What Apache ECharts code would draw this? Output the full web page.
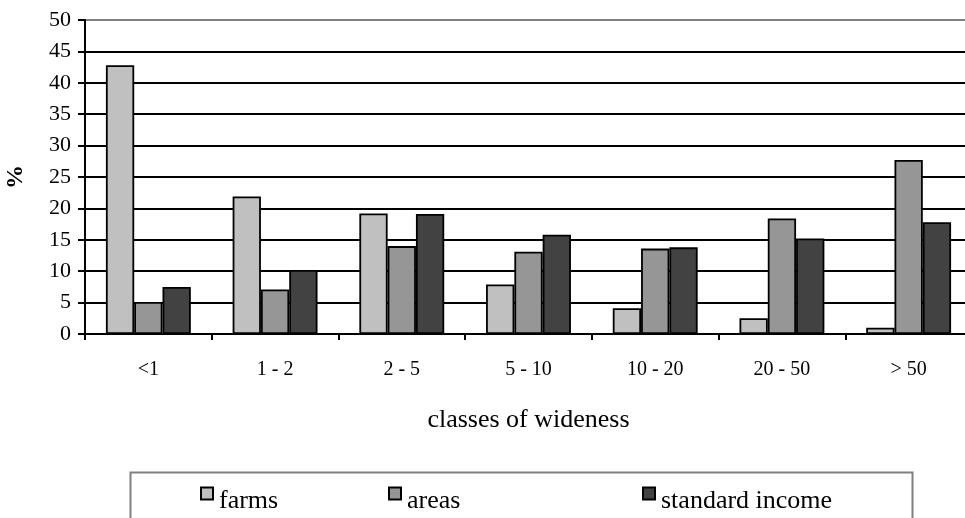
<!DOCTYPE html>
<html>
<head>
<meta charset="utf-8">
<script src="https://cdn.jsdelivr.net/npm/echarts@6/dist/echarts.min.js"></script>
<style>html,body{margin:0;padding:0;background:#fff;}#c{width:965px;height:518px;}</style>
</head>
<body>
<div id="c"></div>
<script>
const categories = ['<1', '1 - 2', '2 - 5', '5 - 10', '10 - 20', '20 - 50', '> 50'];
const farms = [42.8, 21.9, 19.2, 7.9, 4.1, 2.5, 1.0];
const areas = [5.1, 7.1, 14.0, 13.1, 13.6, 18.4, 27.7];
const standardIncome = [7.5, 10.2, 19.1, 15.8, 13.8, 15.2, 17.8];
const yTicks = [0, 5, 10, 15, 20, 25, 30, 35, 40, 45, 50];

const FONT = '"Liberation Serif", "Times New Roman", serif';
const chart = echarts.init(document.getElementById('c'), null, {renderer: 'canvas'});
const splitColors = yTicks.map((v, i) => i === yTicks.length - 1 ? '#808080' : '#000');

function bar(name, data, color) {
  return {
    name, type: 'bar', data,
    barGap: '0%', barCategoryGap: '33%',
    itemStyle: {color, borderColor: '#000', borderWidth: 1.8},
    emphasis: {disabled: true},
    animation: false
  };
}
function leg(name, left) {
  return {
    data: [name], left, top: 473, padding: 0, itemWidth: 12, itemHeight: 12, itemGap: 0,
    icon: 'rect', selectedMode: false,
    itemStyle: {borderColor: '#000', borderWidth: 2},
    formatter: '{t|{name}}',
    textStyle: {
      fontFamily: FONT, fontSize: 26, color: '#000',
      rich: {t: {fontFamily: FONT, fontSize: 26, color: '#000', lineHeight: 30, padding: [15, 0, 0, 1]}}
    }
  };
}

chart.setOption({
  animation: false,
  backgroundColor: '#fff',
  grid: {left: 85, right: -7, top: 20, bottom: 184, containLabel: false, outerBoundsMode: 'none'},
  xAxis: {
    type: 'category', data: categories,
    name: 'classes of wideness', nameLocation: 'middle', nameGap: 73,
    nameTextStyle: {fontFamily: FONT, fontSize: 26, color: '#000'},
    axisLine: {lineStyle: {color: '#000', width: 2}},
    axisTick: {show: true, length: 6, lineStyle: {color: '#000', width: 2}},
    axisLabel: {fontFamily: FONT, fontSize: 20, color: '#000', margin: 26},
    splitLine: {show: false}
  },
  yAxis: {
    type: 'value', min: 0, max: 50, interval: 5,
    name: '%', nameLocation: 'middle', nameGap: 57, nameRotate: 90,
    nameTextStyle: {fontFamily: FONT, fontSize: 24, fontWeight: 'bold', color: '#000'},
    axisLine: {show: true, lineStyle: {color: '#000', width: 2}},
    axisTick: {show: true, length: 7, lineStyle: {color: '#000', width: 2}},
    axisLabel: {fontFamily: FONT, fontSize: 22, color: '#000', margin: 14},
    splitLine: {show: true, lineStyle: {color: splitColors, width: 2}}
  },
  legend: [leg('farms', 200), leg('areas', 388), leg('standard income', 642)],
  graphic: [{
    type: 'rect', left: 128, top: 470,
    shape: {width: 782, height: 60},
    style: {fill: 'none', stroke: '#808080', lineWidth: 2},
    silent: true, z: -1
  }],
  series: [
    bar('farms', farms, '#c0c0c0'),
    bar('areas', areas, '#969696'),
    bar('standard income', standardIncome, '#424242')
  ]
});
</script>
</body>
</html>
